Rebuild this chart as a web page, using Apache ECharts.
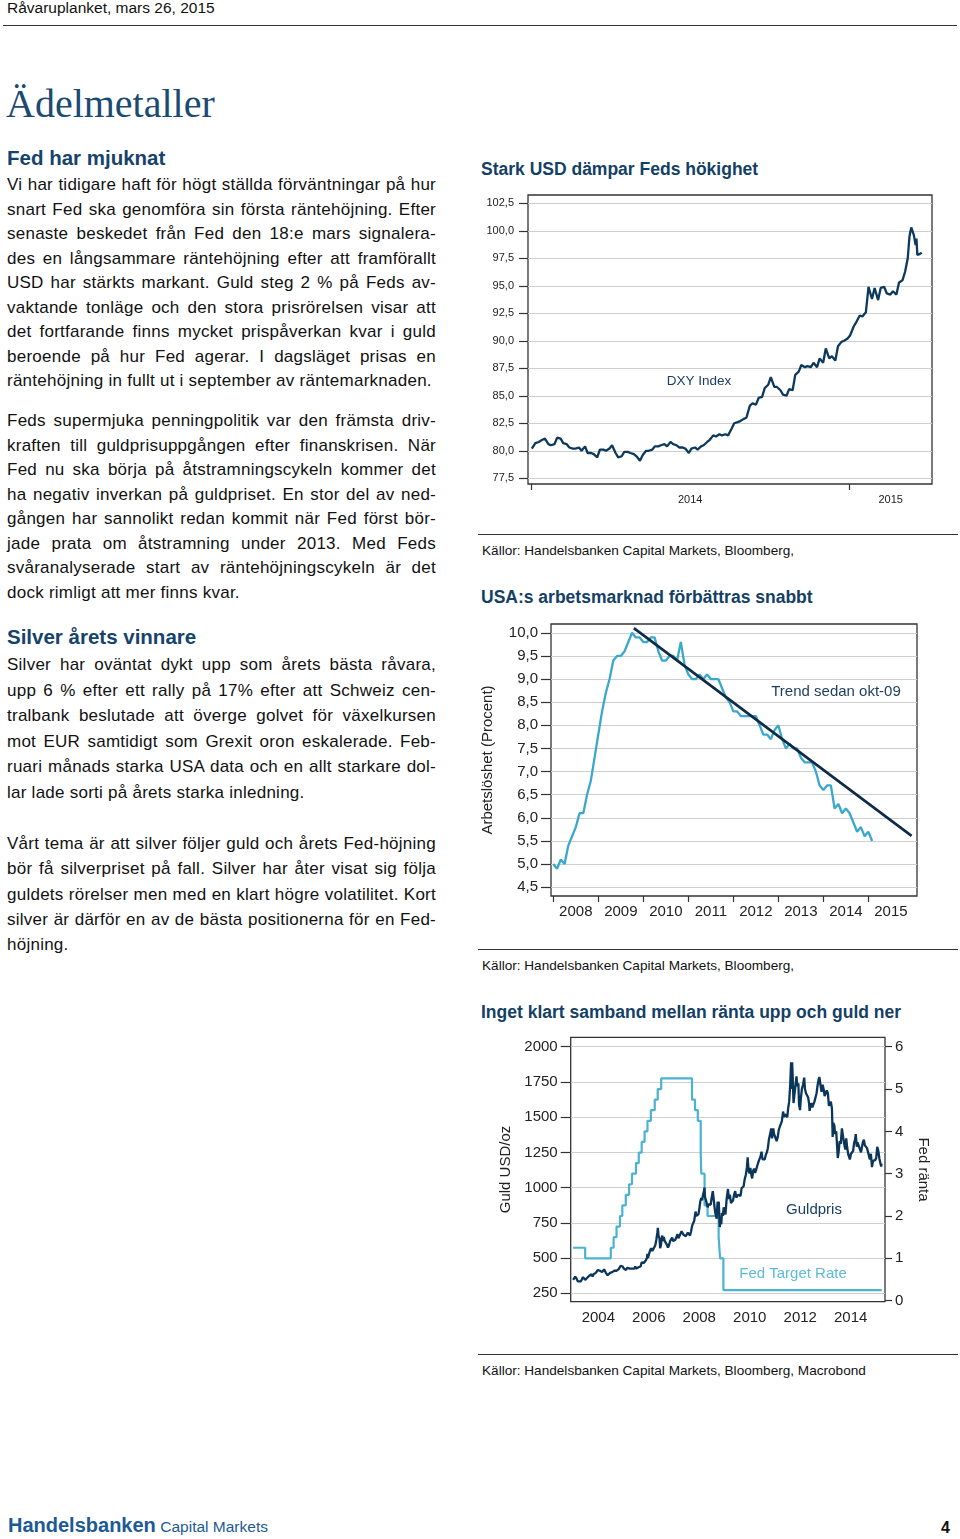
<!DOCTYPE html>
<html><head><meta charset="utf-8">
<script src="https://cdn.jsdelivr.net/npm/echarts@6/dist/echarts.min.js"></script>
<style>
html,body{margin:0;padding:0;background:#fff;}
body{width:960px;height:1539px;position:relative;overflow:hidden;font-family:"Liberation Sans",Arial,sans-serif;color:#111;}
.a{position:absolute;white-space:nowrap;}
.ln{position:absolute;left:7px;width:429px;font-size:17px;letter-spacing:0.25px;white-space:nowrap;text-align:justify;text-align-last:justify;color:#111;}
.ln.last{text-align:left;text-align-last:left;}
.rule{position:absolute;height:1px;background:#333;}
.h{position:absolute;left:7px;font-weight:bold;font-size:20.5px;color:#16436b;line-height:24px;white-space:nowrap;}
.ct{position:absolute;left:481px;font-weight:bold;font-size:17.5px;color:#143f66;line-height:22px;white-space:nowrap;}
.src{position:absolute;left:482px;font-size:13.6px;color:#111;line-height:16px;white-space:nowrap;}
.chart{position:absolute;left:478px;width:482px;}
</style>
</head>
<body>
<div class="a" style="left:7px;top:-1px;font-size:15.5px;line-height:18px;color:#111;">Råvaruplanket, mars 26, 2015</div>
<div class="rule" style="left:3px;top:25px;width:954px;"></div>
<div class="a" style="left:6px;top:83.5px;font-family:'Liberation Serif',serif;font-size:40px;line-height:40px;color:#1b4a72;">Ädelmetaller</div>
<div class="h" style="top:146px;">Fed har mjuknat</div>
<div class="h" style="top:625px;">Silver årets vinnare</div>
<div id="txt"></div>

<div class="ct" style="top:158px;">Stark USD dämpar Feds hökighet</div>
<div class="chart" id="c1" style="top:180px;height:340px;"></div>
<div class="rule" style="left:478px;top:534px;width:480px;"></div>
<div class="src" style="top:543px;">Källor: Handelsbanken Capital Markets, Bloomberg,</div>

<div class="ct" style="top:586px;">USA:s arbetsmarknad förbättras snabbt</div>
<div class="chart" id="c2" style="top:615px;height:320px;"></div>
<div class="rule" style="left:478px;top:949px;width:480px;"></div>
<div class="src" style="top:958px;">Källor: Handelsbanken Capital Markets, Bloomberg,</div>

<div class="ct" style="top:1001px;">Inget klart samband mellan ränta upp och guld ner</div>
<div class="chart" id="c3" style="top:1030px;height:320px;"></div>
<div class="rule" style="left:478px;top:1354px;width:480px;"></div>
<div class="src" style="top:1363px;">Källor: Handelsbanken Capital Markets, Bloomberg, Macrobond</div>

<div class="a" style="left:8px;top:1513px;line-height:24px;color:#1c5a96;"><span style="font-weight:bold;font-size:20px;">Handelsbanken</span> <span style="font-size:15.5px;">Capital Markets</span></div>
<div class="a" style="left:941px;top:1518px;line-height:20px;font-size:16px;font-weight:bold;color:#111;">4</div>

<script>
// ---------- Body text (line by line, as in the reference) ----------
const paragraphs = [
  {y:185, dy:24.5, lines:[
    "Vi har tidigare haft för högt ställda förväntningar på hur",
    "snart Fed ska genomföra sin första räntehöjning. Efter",
    "senaste beskedet från Fed den 18:e mars signalera-",
    "des en långsammare räntehöjning efter att framförallt",
    "USD har stärkts markant. Guld steg 2 % på Feds av-",
    "vaktande tonläge och den stora prisrörelsen visar att",
    "det fortfarande finns mycket prispåverkan kvar i guld",
    "beroende på hur Fed agerar. I dagsläget prisas en",
    "räntehöjning in fullt ut i september av räntemarknaden."]},
  {y:421, dy:24.5, lines:[
    "Feds supermjuka penningpolitik var den främsta driv-",
    "kraften till guldprisuppgången efter finanskrisen. När",
    "Fed nu ska börja på åtstramningscykeln kommer det",
    "ha negativ inverkan på guldpriset. En stor del av ned-",
    "gången har sannolikt redan kommit när Fed först bör-",
    "jade prata om åtstramning under 2013. Med Feds",
    "svåranalyserade start av räntehöjningscykeln är det",
    "dock rimligt att mer finns kvar."]},
  {y:665, dy:25.6, lines:[
    "Silver har oväntat dykt upp som årets bästa råvara,",
    "upp 6 % efter ett rally på 17% efter att Schweiz cen-",
    "tralbank beslutade att överge golvet för växelkursen",
    "mot EUR samtidigt som Grexit oron eskalerade. Feb-",
    "ruari månads starka USA data och en allt starkare dol-",
    "lar lade sorti på årets starka inledning."]},
  {y:844, dy:25.25, lines:[
    "Vårt tema är att silver följer guld och årets Fed-höjning",
    "bör få silverpriset på fall. Silver har åter visat sig följa",
    "guldets rörelser men med en klart högre volatilitet. Kort",
    "silver är därför en av de bästa positionerna för en Fed-",
    "höjning."]}
];
const txt = document.getElementById('txt');
paragraphs.forEach(p => {
  p.lines.forEach((t, i) => {
    const d = document.createElement('div');
    d.className = 'ln' + (i === p.lines.length - 1 ? ' last' : '');
    d.style.top = (p.y + i * p.dy - 12) + 'px';
    d.style.lineHeight = '24px';
    d.textContent = t;
    txt.appendChild(d);
  });
});

// ---------- Chart 1: DXY ----------
const dxyDates = ['2014-01-02','2014-01-06','2014-01-10','2014-01-14','2014-01-17','2014-01-21','2014-01-24','2014-01-28','2014-01-31','2014-02-04','2014-02-07','2014-02-11','2014-02-14','2014-02-18','2014-02-21','2014-02-25','2014-02-28','2014-03-04','2014-03-07','2014-03-11','2014-03-14','2014-03-18','2014-03-21','2014-03-25','2014-03-28','2014-04-01','2014-04-04','2014-04-08','2014-04-11','2014-04-15','2014-04-18','2014-04-22','2014-04-25','2014-04-29','2014-05-02','2014-05-06','2014-05-09','2014-05-13','2014-05-16','2014-05-20','2014-05-23','2014-05-27','2014-05-30','2014-06-03','2014-06-06','2014-06-10','2014-06-13','2014-06-17','2014-06-20','2014-06-24','2014-06-27','2014-07-01','2014-07-04','2014-07-08','2014-07-11','2014-07-15','2014-07-18','2014-07-22','2014-07-25','2014-07-29','2014-08-01','2014-08-05','2014-08-08','2014-08-12','2014-08-15','2014-08-19','2014-08-22','2014-08-26','2014-08-29','2014-09-02','2014-09-05','2014-09-09','2014-09-12','2014-09-16','2014-09-19','2014-09-23','2014-09-26','2014-09-30','2014-10-03','2014-10-07','2014-10-10','2014-10-14','2014-10-17','2014-10-21','2014-10-24','2014-10-28','2014-10-31','2014-11-04','2014-11-07','2014-11-11','2014-11-14','2014-11-18','2014-11-21','2014-11-25','2014-11-28','2014-12-02','2014-12-05','2014-12-09','2014-12-12','2014-12-16','2014-12-19','2014-12-23','2014-12-26','2014-12-30','2015-01-02','2015-01-06','2015-01-09','2015-01-13','2015-01-16','2015-01-20','2015-01-23','2015-01-27','2015-01-30','2015-02-03','2015-02-06','2015-02-10','2015-02-13','2015-02-17','2015-02-20','2015-02-24','2015-02-27','2015-03-03','2015-03-06','2015-03-09','2015-03-11','2015-03-13','2015-03-16','2015-03-18','2015-03-19','2015-03-20','2015-03-23','2015-03-25'];
const dxyValues = [80.2,80.7,80.8,81.0,81.1,80.6,80.5,80.6,81.2,81.1,80.7,80.6,80.3,80.2,80.2,80.3,80.0,80.4,79.8,79.8,79.7,79.4,80.1,80.1,80.0,80.2,80.5,79.8,79.4,79.5,79.9,79.9,79.8,79.7,79.5,79.1,79.6,80.0,80.0,80.1,80.4,80.4,80.5,80.6,80.4,80.8,80.6,80.5,80.3,80.3,80.2,79.8,80.2,80.3,80.1,80.4,80.5,80.8,81.0,81.4,81.3,81.5,81.4,81.5,81.4,82.0,82.5,82.6,82.7,82.9,83.0,84.1,84.3,84.2,84.8,84.9,85.7,86.0,86.7,85.8,85.8,85.5,85.1,85.0,85.6,85.5,86.9,87.2,87.8,87.6,87.7,87.6,88.0,87.6,88.4,88.0,89.3,88.4,88.6,88.2,89.5,89.9,90.0,90.2,90.5,91.3,91.7,92.3,92.2,92.6,94.9,93.8,94.8,93.7,94.8,94.9,94.3,94.2,94.5,94.2,95.3,95.5,96.3,97.5,99.5,100.3,99.6,98.7,99.3,97.8,97.9,98.0];
const dxyTicks = [77.5,80,82.5,85,87.5,90,92.5,95,97.5,100,102.5];
const dxyYearStarts = ['2014-01-01','2015-01-01'];

// ---------- Chart 2: US unemployment (monthly from Jan 2008) ----------
const unempStart = 2008;
const unempValues = [
  5.0,4.9,5.1,5.0,5.4,5.6,5.8,6.1,6.1,6.5,6.8,7.3,
  7.8,8.3,8.7,9.0,9.4,9.5,9.5,9.6,9.8,10.0,9.9,9.9,
  9.8,9.8,9.9,9.9,9.6,9.4,9.4,9.5,9.5,9.4,9.8,9.3,
  9.1,9.0,9.0,9.1,9.0,9.1,9.0,9.0,9.0,8.8,8.6,8.5,
  8.3,8.3,8.2,8.2,8.2,8.2,8.2,8.0,7.8,7.8,7.7,7.9,
  8.0,7.7,7.5,7.6,7.5,7.5,7.3,7.2,7.2,7.2,7.0,6.7,
  6.6,6.7,6.7,6.2,6.3,6.1,6.2,6.1,5.9,5.7,5.8,5.6,
  5.7,5.5];
const trendX = [2009.79, 2015.96];
const trendY = [10.1, 5.61];
const unempTicks = [4.5,5,5.5,6,6.5,7,7.5,8,8.5,9,9.5,10];
const unempYears = [2008,2009,2010,2011,2012,2013,2014,2015];

// ---------- Chart 3: Gold and Fed target rate ----------
const goldDates = ['2003-01-02','2003-01-15','2003-02-01','2003-02-10','2003-02-25','2003-03-10','2003-03-25','2003-04-07','2003-04-25','2003-05-10','2003-05-25','2003-06-10','2003-06-25','2003-07-10','2003-07-25','2003-08-10','2003-08-25','2003-09-10','2003-09-25','2003-10-10','2003-10-25','2003-11-10','2003-11-25','2003-12-10','2003-12-25',
'2004-01-10','2004-01-25','2004-02-10','2004-02-25','2004-03-10','2004-03-25','2004-04-05','2004-04-20','2004-05-05','2004-05-15','2004-06-01','2004-06-20','2004-07-05','2004-07-20','2004-08-05','2004-08-20','2004-09-05','2004-09-20','2004-10-05','2004-10-20','2004-11-05','2004-11-20','2004-12-02','2004-12-20',
'2005-01-05','2005-01-20','2005-02-05','2005-02-20','2005-03-05','2005-03-20','2005-04-05','2005-04-20','2005-05-05','2005-05-20','2005-06-05','2005-06-20','2005-07-05','2005-07-20','2005-08-05','2005-08-20','2005-09-05','2005-09-20','2005-10-05','2005-10-20','2005-11-05','2005-11-20','2005-12-05','2005-12-12','2005-12-20',
'2006-01-05','2006-01-20','2006-02-05','2006-02-20','2006-03-05','2006-03-20','2006-04-05','2006-04-20','2006-05-05','2006-05-12','2006-05-22','2006-06-05','2006-06-14','2006-06-25','2006-07-05','2006-07-15','2006-07-25','2006-08-05','2006-08-20','2006-09-05','2006-09-20','2006-10-05','2006-10-20','2006-11-05','2006-11-20','2006-12-05','2006-12-20',
'2007-01-05','2007-01-20','2007-02-05','2007-02-20','2007-03-05','2007-03-20','2007-04-05','2007-04-20','2007-05-05','2007-05-20','2007-06-05','2007-06-20','2007-07-05','2007-07-20','2007-08-05','2007-08-20','2007-09-05','2007-09-20','2007-10-05','2007-10-20','2007-11-08','2007-11-20','2007-12-05','2007-12-20',
'2008-01-05','2008-01-15','2008-01-30','2008-02-10','2008-02-25','2008-03-10','2008-03-17','2008-03-25','2008-04-05','2008-04-20','2008-05-01','2008-05-15','2008-06-01','2008-06-15','2008-07-01','2008-07-15','2008-07-28','2008-08-10','2008-08-20','2008-09-01','2008-09-10','2008-09-22','2008-10-01','2008-10-10','2008-10-24','2008-11-05','2008-11-15','2008-11-25','2008-12-10','2008-12-20',
'2009-01-05','2009-01-15','2009-02-01','2009-02-20','2009-03-05','2009-03-20','2009-04-05','2009-04-20','2009-05-05','2009-05-20','2009-06-05','2009-06-20','2009-07-05','2009-07-20','2009-08-05','2009-08-20','2009-09-05','2009-09-20','2009-10-05','2009-10-20','2009-11-05','2009-11-20','2009-12-02','2009-12-15','2009-12-28',
'2010-01-10','2010-01-25','2010-02-05','2010-02-20','2010-03-05','2010-03-20','2010-04-05','2010-04-20','2010-05-05','2010-05-20','2010-06-05','2010-06-20','2010-07-05','2010-07-20','2010-08-05','2010-08-20','2010-09-05','2010-09-20','2010-10-05','2010-10-20','2010-11-08','2010-11-20','2010-12-07','2010-12-20',
'2011-01-05','2011-01-25','2011-02-10','2011-02-25','2011-03-10','2011-03-25','2011-04-10','2011-04-28','2011-05-10','2011-05-25','2011-06-10','2011-06-28','2011-07-10','2011-07-25','2011-08-08','2011-08-22','2011-08-26','2011-09-06','2011-09-15','2011-09-26','2011-10-05','2011-10-20','2011-11-08','2011-11-20','2011-12-05','2011-12-15','2011-12-29',
'2012-01-10','2012-01-25','2012-02-10','2012-02-28','2012-03-10','2012-03-25','2012-04-10','2012-04-25','2012-05-10','2012-05-16','2012-05-28','2012-06-10','2012-06-25','2012-07-10','2012-07-25','2012-08-10','2012-08-25','2012-09-10','2012-09-25','2012-10-05','2012-10-20','2012-11-05','2012-11-20','2012-12-05','2012-12-20',
'2013-01-05','2013-01-20','2013-02-05','2013-02-20','2013-03-05','2013-03-20','2013-04-05','2013-04-15','2013-04-25','2013-05-10','2013-05-20','2013-06-05','2013-06-20','2013-06-28','2013-07-10','2013-07-25','2013-08-10','2013-08-27','2013-09-10','2013-09-25','2013-10-05','2013-10-15','2013-10-28','2013-11-10','2013-11-25','2013-12-05','2013-12-20',
'2014-01-05','2014-01-20','2014-02-05','2014-02-20','2014-03-05','2014-03-15','2014-03-30','2014-04-10','2014-04-25','2014-05-10','2014-05-30','2014-06-10','2014-06-25','2014-07-10','2014-07-25','2014-08-10','2014-08-25','2014-09-10','2014-09-25','2014-10-05','2014-10-20','2014-11-05','2014-11-20','2014-12-05','2014-12-20',
'2015-01-05','2015-01-20','2015-01-23','2015-02-05','2015-02-20','2015-03-05','2015-03-10','2015-03-17','2015-03-24'];
const goldValues = [345,356,368,375,350,335,330,325,335,350,365,355,345,350,360,360,375,380,385,370,385,385,395,405,415,
425,410,410,400,400,420,425,395,385,378,390,395,400,400,395,410,405,410,420,420,430,445,455,440,
425,425,415,430,435,430,425,435,425,420,425,440,425,425,435,440,440,470,470,465,460,485,500,530,500,
530,555,570,550,560,560,590,630,680,715,660,640,570,590,630,660,620,650,620,630,595,575,590,620,630,645,620,
610,630,650,670,640,655,665,690,680,665,665,655,650,680,670,660,690,730,735,765,830,800,790,810,
860,900,925,910,950,975,1000,930,915,915,860,880,885,880,935,975,920,860,820,830,780,900,880,900,720,760,740,820,800,860,
860,810,920,990,920,950,890,880,910,950,975,930,920,950,960,940,995,1005,1010,1060,1090,1140,1215,1120,1100,
1140,1090,1065,1120,1135,1105,1130,1140,1180,1200,1220,1255,1200,1190,1200,1230,1250,1280,1340,1330,1420,1350,1420,1380,
1370,1330,1360,1410,1430,1430,1470,1540,1500,1520,1530,1500,1560,1610,1720,1890,1700,1890,1780,1600,1640,1640,1790,1720,1740,1590,1550,
1630,1700,1730,1780,1700,1670,1660,1640,1590,1545,1580,1600,1570,1580,1610,1620,1670,1730,1770,1785,1730,1680,1730,1700,1650,
1650,1690,1670,1580,1575,1610,1560,1360,1460,1440,1380,1400,1280,1210,1250,1330,1310,1420,1370,1320,1310,1270,1350,1290,1240,1230,1200,
1240,1250,1260,1320,1340,1380,1290,1320,1300,1290,1250,1260,1320,1340,1300,1310,1280,1250,1220,1200,1240,1145,1190,1200,1195,
1210,1290,1300,1260,1205,1200,1165,1150,1170];
const fedDates = ['2003-01-01','2003-06-25','2004-06-30','2004-08-10','2004-09-21','2004-11-10','2004-12-14','2005-02-02','2005-03-22','2005-05-03','2005-06-30','2005-08-09','2005-09-20','2005-11-01','2005-12-13','2006-01-31','2006-03-28','2006-05-10','2006-06-29','2007-09-18','2007-10-31','2007-12-11','2008-01-22','2008-01-30','2008-03-18','2008-04-30','2008-10-08','2008-10-29','2008-12-16','2015-03-25'];
const fedValues = [1.25,1.00,1.25,1.50,1.75,2.00,2.25,2.50,2.75,3.00,3.25,3.50,3.75,4.00,4.25,4.50,4.75,5.00,5.25,4.75,4.50,4.25,3.50,3.00,2.25,2.00,1.50,1.00,0.25,0.25];
const goldTicks = [250,500,750,1000,1250,1500,1750,2000];
const fedTicks = [0,1,2,3,4,5,6];
const goldYears = [2004,2006,2008,2010,2012,2014];

// ---------- helpers ----------
const FONT = '"Liberation Sans", Arial, sans-serif';
const T = s => Date.parse(s + 'T00:00:00Z');
const DAY = 86400000;
const fy = s => { const t = T(s); const y = new Date(t).getUTCFullYear(); const a = Date.UTC(y,0,1), b = Date.UTC(y+1,0,1); return y + (t - a) / (b - a); };
const comma = d => v => v.toFixed(d).replace('.', ',');
const gridBase = {show: true, borderColor: '#333', borderWidth: 1.3, containLabel: false, outerBoundsMode: 'none'};

// ---------- Chart 1 ----------
(function(){
  const c = echarts.init(document.getElementById('c1'));
  const x0 = T(dxyYearStarts[0]), x1 = T(dxyYearStarts[1]);
  const xmin = x0 - 3.4 * DAY, xmax = x0 + 459.8 * DAY;
  const labelPos = [(x0 + x1) / 2, (x1 + xmax) / 2];
  c.setOption({
    animation: false,
    textStyle: {fontFamily: FONT},
    grid: Object.assign({left: 50, top: 15, width: 404, height: 289}, gridBase),
    xAxis: {type: 'value', min: xmin, max: xmax,
      axisLine: {show: false}, splitLine: {show: false},
      axisTick: {show: true, customValues: dxyYearStarts.map(T), length: 6, lineStyle: {color: '#333', width: 1.2}},
      axisLabel: {customValues: labelPos, formatter: v => String(new Date(v).getUTCFullYear()), fontSize: 11, color: '#222', margin: 10, fontFamily: FONT}},
    yAxis: {type: 'value', min: 76.98, max: 103.25,
      axisLine: {show: false},
      axisTick: {show: true, customValues: dxyTicks, length: 9, lineStyle: {color: '#333', width: 1.2}},
      axisLabel: {customValues: dxyTicks, formatter: comma(1), fontSize: 11, color: '#222', margin: 14, fontFamily: FONT},
      splitLine: {show: true, lineStyle: {color: '#cfcfcf', width: 1}}},
    series: [{type: 'line', data: dxyDates.map((d, i) => [T(d), dxyValues[i]]), showSymbol: false,
      lineStyle: {color: '#0d3a5c', width: 2.3}, itemStyle: {color: '#0d3a5c'}}],
    graphic: [{type: 'text', x: 221, y: 201, style: {text: 'DXY Index', fill: '#1a3e63', font: '13.5px ' + FONT, align: 'center', verticalAlign: 'middle', textAlign: 'center', textVerticalAlign: 'middle'}}]
  });
})();

// ---------- Chart 2 ----------
(function(){
  const c = echarts.init(document.getElementById('c2'));
  const data = unempValues.map((v, i) => [unempStart + i / 12, v]);
  c.setOption({
    animation: false,
    textStyle: {fontFamily: FONT},
    grid: Object.assign({left: 73, top: 9, width: 366, height: 272}, gridBase),
    xAxis: {type: 'value', min: 2007.949, max: 2016.08,
      axisLine: {show: false}, splitLine: {show: false},
      axisTick: {show: true, customValues: unempYears, length: 6, lineStyle: {color: '#333', width: 1.2}},
      axisLabel: {customValues: unempYears.map(y => y + 0.5), formatter: v => String(Math.floor(v)), fontSize: 15, color: '#222', margin: 8, fontFamily: FONT}},
    yAxis: {type: 'value', min: 4.31, max: 10.19,
      name: 'Arbetslöshet (Procent)', nameLocation: 'middle', nameGap: 56, nameRotate: 90,
      nameTextStyle: {fontSize: 15, color: '#222', fontFamily: FONT},
      axisLine: {show: false},
      axisTick: {show: true, customValues: unempTicks, length: 10, lineStyle: {color: '#333', width: 1.2}},
      axisLabel: {customValues: unempTicks, formatter: comma(1), fontSize: 15, color: '#222', margin: 13, fontFamily: FONT},
      splitLine: {show: true, lineStyle: {color: '#cfcfcf', width: 1}}},
    series: [
      {type: 'line', data: data, showSymbol: false, lineStyle: {color: '#3aa8cc', width: 2.3}, itemStyle: {color: '#3aa8cc'}},
      {type: 'line', data: trendX.map((x, i) => [x, trendY[i]]), showSymbol: false, lineStyle: {color: '#0e2a47', width: 2.6}, itemStyle: {color: '#0e2a47'}}
    ],
    graphic: [{type: 'text', x: 358, y: 77, style: {text: 'Trend sedan okt-09', fill: '#1c3c5c', font: '15px ' + FONT, align: 'center', verticalAlign: 'middle', textAlign: 'center', textVerticalAlign: 'middle'}}]
  });
})();

// ---------- Chart 3 ----------
(function(){
  const c = echarts.init(document.getElementById('c3'));
  c.setOption({
    animation: false,
    textStyle: {fontFamily: FONT},
    grid: Object.assign({left: 92.7, top: 7.3, width: 314.3, height: 264.4}, gridBase),
    xAxis: {type: 'value', min: 2002.906, max: 2015.359,
      axisLine: {show: false}, splitLine: {show: false}, axisTick: {show: false},
      axisLabel: {customValues: goldYears, formatter: v => String(Math.round(v)), fontSize: 15, color: '#222', margin: 9, fontFamily: FONT}},
    yAxis: [
      {type: 'value', min: 190.4, max: 2066.7, position: 'left',
        name: 'Guld USD/oz', nameLocation: 'middle', nameGap: 57, nameRotate: 90,
        nameTextStyle: {fontSize: 15, color: '#222', fontFamily: FONT},
        axisLine: {show: false},
        axisTick: {show: true, customValues: goldTicks, length: 10, lineStyle: {color: '#333', width: 1.2}},
        axisLabel: {customValues: goldTicks, formatter: v => String(v), fontSize: 15, color: '#222', margin: 13, fontFamily: FONT},
        splitLine: {show: true, lineStyle: {color: '#cfcfcf', width: 1}}},
      {type: 'value', min: -0.024, max: 6.222, position: 'right',
        name: 'Fed ränta', nameLocation: 'middle', nameGap: 31, nameRotate: -90,
        nameTextStyle: {fontSize: 15, color: '#222', fontFamily: FONT},
        axisLine: {show: false},
        axisTick: {show: true, customValues: fedTicks, length: 7, lineStyle: {color: '#333', width: 1.2}},
        axisLabel: {customValues: fedTicks, formatter: v => String(v), fontSize: 15, color: '#222', margin: 10, fontFamily: FONT},
        splitLine: {show: false}}
    ],
    series: [
      {type: 'line', yAxisIndex: 1, step: 'end', data: fedDates.map((d, i) => [fy(d), fedValues[i]]), showSymbol: false,
        lineStyle: {color: '#4bb2d3', width: 2.2}, itemStyle: {color: '#4bb2d3'}},
      {type: 'line', yAxisIndex: 0, data: goldDates.map((d, i) => [fy(d), goldValues[i]]), showSymbol: false,
        lineStyle: {color: '#0b365c', width: 2.3}, itemStyle: {color: '#0b365c'}}
    ],
    graphic: [
      {type: 'text', x: 336, y: 180, style: {text: 'Guldpris', fill: '#1a3e63', font: '15px ' + FONT, align: 'center', verticalAlign: 'middle', textAlign: 'center', textVerticalAlign: 'middle'}},
      {type: 'text', x: 315, y: 244, style: {text: 'Fed Target Rate', fill: '#5dbbd8', font: '15px ' + FONT, align: 'center', verticalAlign: 'middle', textAlign: 'center', textVerticalAlign: 'middle'}}
    ]
  });
})();
</script>
</body></html>
